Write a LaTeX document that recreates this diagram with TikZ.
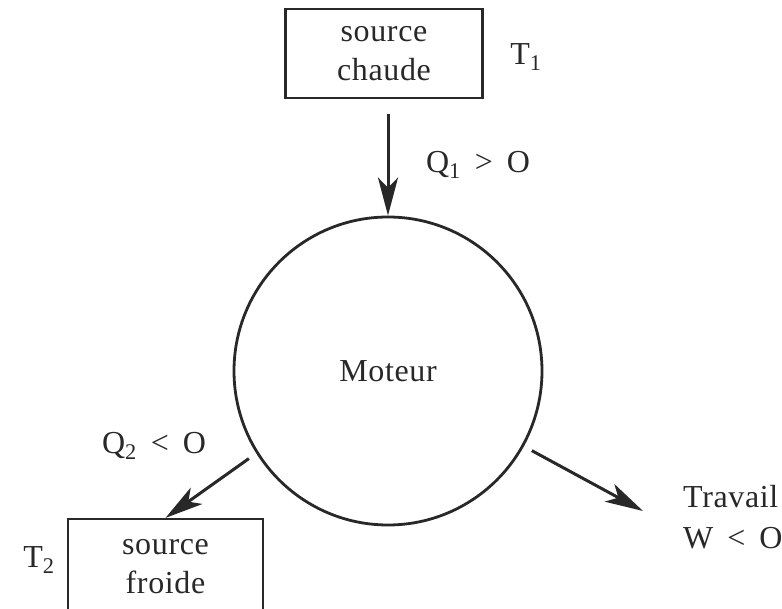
\documentclass[tikz,border=0pt]{standalone}
\usepackage{fontspec}
\setmainfont[LetterSpace=2]{Liberation Serif}
\usetikzlibrary{arrows.meta}
\definecolor{ink}{RGB}{40,40,40}
\begin{document}
\begin{tikzpicture}[x=1pt,y=-1pt,
  every node/.style={font=\fontsize{32}{39}\selectfont, text=ink},
  box/.style={draw=ink, line width=2.2pt, align=center, inner sep=0pt, minimum width=197pt, minimum height=89pt},
  engine/.style={draw=ink, circle, line width=2.8pt, minimum size=308pt, inner sep=0pt},
  flow/.style={draw=ink, line width=3pt, -{Stealth[length=38pt,width=20pt,inset=10pt]}},
  lbl/.style={inner sep=0pt}]
\clip (0,0) rectangle (782,609);
\node[box] (hot) at (384,53.5) {source\\chaude};
\node[lbl] (t1) at (526,57) {T\textsubscript{1}};
\node[engine] (moteur) at (388,371) {Moteur};
\node[box, minimum width=195pt, minimum height=95pt] (cold) at (165.5,566.5) {source\\froide};
\node[lbl] (t2) at (39,560) {T\textsubscript{2}};
\coordinate (wend) at (643,511);
\node[lbl, anchor=base west] (trav) at (683,507) {Travail};
\node[lbl, anchor=base west] (wlab) at (683,548) {W \,<\, O};
\node[lbl] (q1) at (478,165) {Q\textsubscript{1} \,>\, O};
\node[lbl] (q2) at (154,446) {Q\textsubscript{2} \,<\, O};
\draw[flow] ([yshift=-15pt]hot.south -| moteur.north) -- (moteur.north);
\draw[flow, shorten <=9pt] (moteur.212) -- (cold.north);
\draw[flow, shorten <=9pt] (moteur.-29) -- (wend);
\end{tikzpicture}
\end{document}
